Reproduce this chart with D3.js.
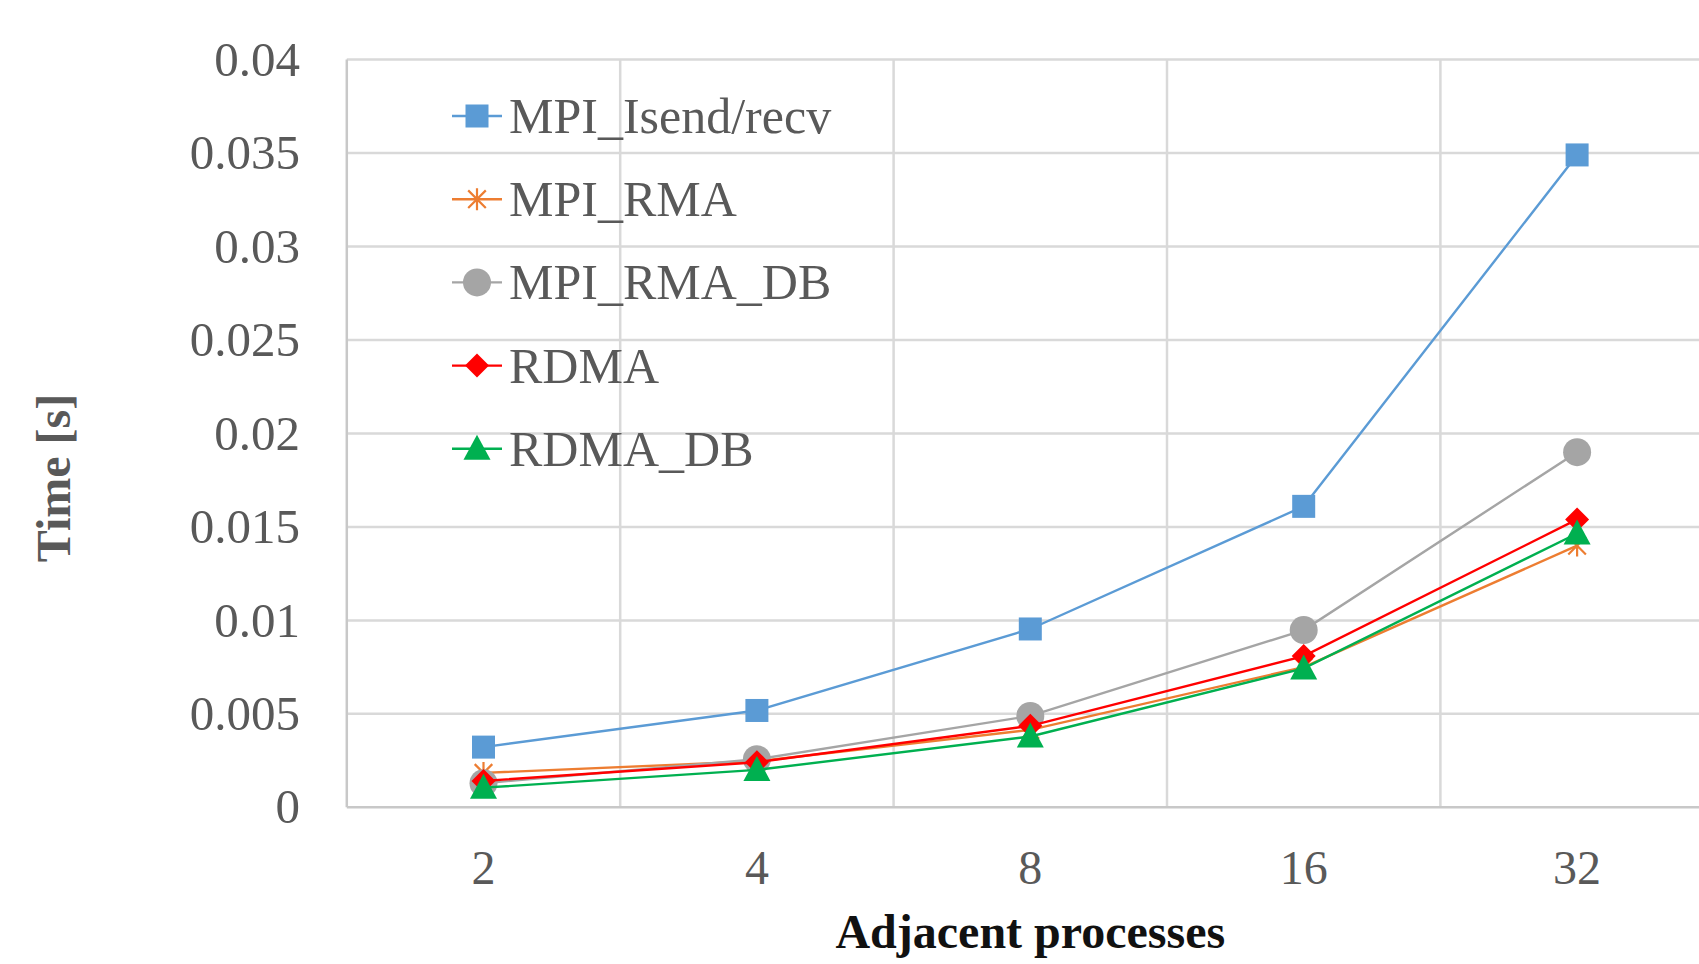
<!DOCTYPE html>
<html>
<head>
<meta charset="utf-8">
<script src="https://cdn.jsdelivr.net/npm/d3@7"></script>
<style>
    html, body { margin: 0; padding: 0; background: #fff; }
    svg { display: block; font-family: "Liberation Serif", "DejaVu Serif", serif; }
</style>
</head>
<body>
<svg id="chart" width="1699" height="964"></svg>
<script>
// chart data
const categories = ["2", "4", "8", "16", "32"];
const yTicks = [0, 0.005, 0.01, 0.015, 0.02, 0.025, 0.03, 0.035, 0.04];
const yTickLabels = ["0", "0.005", "0.01", "0.015", "0.02", "0.025", "0.03", "0.035", "0.04"];

const isendRecv = [0.00322, 0.00518, 0.00954, 0.0161, 0.0349];
const mpiRma = [0.00184, 0.00246, 0.00414, 0.0075, 0.0140];
const mpiRmaDb = [0.00129, 0.00257, 0.00489, 0.00948, 0.0190];
const rdma = [0.00141, 0.00241, 0.00436, 0.00809, 0.0154];
const rdmaDb = [0.00105, 0.0020, 0.00379, 0.00743, 0.01465];

const seriesNames = ["MPI_Isend/recv", "MPI_RMA", "MPI_RMA_DB", "RDMA", "RDMA_DB"];
const seriesValues = [isendRecv, mpiRma, mpiRmaDb, rdma, rdmaDb];
const seriesColors = ["#5b9bd5", "#ed7d31", "#a5a5a5", "#ff0000", "#00b050"];
const seriesMarkers = ["square", "star", "circle", "diamond", "triangle"];

const svg = d3.select("#chart");
svg.append("rect").attr("width", 1699).attr("height", 964).attr("fill", "#fff");

// plot area (right edge runs past the picture like in the original)
const plotLeft = 346.8, plotRight = 1713.8, plotTop = 59.6, plotBottom = 807.3;

const x = d3.scaleBand().domain(categories).range([plotLeft, plotRight]).paddingInner(0).paddingOuter(0);
const y = d3.scaleLinear().domain([0, 0.04]).range([plotBottom, plotTop]);
const cx = c => x(c) + x.bandwidth() / 2;

// horizontal gridlines
svg.append("g")
   .selectAll("line")
   .data(yTicks.slice(1))
   .enter()
   .append("line")
   .attr("x1", plotLeft).attr("x2", plotRight)
   .attr("y1", d => y(d)).attr("y2", d => y(d))
   .attr("stroke", "#d9d9d9")
   .attr("stroke-width", 2.5);

// vertical gridlines on category boundaries
svg.append("g")
   .selectAll("line")
   .data(categories.slice(1))
   .enter()
   .append("line")
   .attr("x1", d => x(d)).attr("x2", d => x(d))
   .attr("y1", plotTop).attr("y2", plotBottom)
   .attr("stroke", "#d9d9d9")
   .attr("stroke-width", 2.5);

// axis lines
svg.append("line")
   .attr("x1", plotLeft).attr("x2", plotLeft).attr("y1", plotTop).attr("y2", plotBottom)
   .attr("stroke", "#c8c8c8").attr("stroke-width", 2.5);
svg.append("line")
   .attr("x1", plotLeft).attr("x2", plotRight).attr("y1", plotBottom).attr("y2", plotBottom)
   .attr("stroke", "#c8c8c8").attr("stroke-width", 2.5);

// y axis labels
let yAxis = svg.append("g")
               .attr("transform", `translate(${plotLeft},0)`)
               .call(d3.axisLeft(y).tickValues(yTicks)
                       .tickFormat((d, i) => yTickLabels[i])
                       .tickSize(0).tickPadding(46.8));
yAxis.select(".domain").remove();
yAxis.selectAll("text")
     .attr("font-family", "Liberation Serif, serif")
     .attr("font-size", 49)
     .attr("fill", "#595959");

// x axis labels
let xAxis = svg.append("g")
               .attr("transform", `translate(0,${plotBottom})`)
               .call(d3.axisBottom(x).tickSize(0).tickPadding(42.5));
xAxis.select(".domain").remove();
xAxis.selectAll("text")
     .attr("font-family", "Liberation Serif, serif")
     .attr("font-size", 48)
     .attr("fill", "#595959");

// axis titles
svg.append("text")
   .attr("x", (plotLeft + plotRight) / 2).attr("y", 948)
   .attr("text-anchor", "middle")
   .attr("font-size", 48).attr("font-weight", "bold")
   .attr("fill", "#111")
   .text("Adjacent processes");

svg.append("text")
   .attr("transform", "translate(70,478) rotate(-90)")
   .attr("text-anchor", "middle")
   .attr("font-size", 48).attr("font-weight", "bold")
   .attr("fill", "#595959")
   .text("Time [s]");

// marker drawing helper
function drawMarker(g, type, px, py, color) {
    if (type === "square") {
        g.append("rect").attr("x", px - 11.5).attr("y", py - 11.5)
         .attr("width", 23).attr("height", 23).attr("fill", color);
    } else if (type === "circle") {
        g.append("circle").attr("cx", px).attr("cy", py).attr("r", 14).attr("fill", color);
    } else if (type === "diamond") {
        g.append("path")
         .attr("d", `M${px},${py - 12}L${px + 12},${py}L${px},${py + 12}L${px - 12},${py}Z`)
         .attr("fill", color);
    } else if (type === "triangle") {
        g.append("path")
         .attr("d", `M${px},${py - 14}L${px + 13.5},${py + 11}L${px - 13.5},${py + 11}Z`)
         .attr("fill", color);
    } else if (type === "star") {
        let r = 11;
        g.append("path")
         .attr("d", `M${px},${py - r}L${px},${py + r}` +
                    `M${px - r * 0.8},${py - r * 0.8}L${px + r * 0.8},${py + r * 0.8}` +
                    `M${px - r * 0.8},${py + r * 0.8}L${px + r * 0.8},${py - r * 0.8}`)
         .attr("stroke", color).attr("stroke-width", 2.2).attr("fill", "none");
    }
}

// series
let line = d3.line().x(d => cx(d.c)).y(d => y(d.v));

seriesValues.forEach((vals, i) => {
    let pts = categories.map((c, j) => ({c: c, v: vals[j]}));
    let g = svg.append("g").attr("class", "series");
    g.append("path")
     .attr("d", line(pts))
     .attr("fill", "none")
     .attr("stroke", seriesColors[i])
     .attr("stroke-width", 2.4);
    pts.forEach(p => drawMarker(g, seriesMarkers[i], cx(p.c), y(p.v), seriesColors[i]));
});

// legend
const legendX = 452, legendY = 116, legendStep = 83.2;
seriesNames.forEach((name, i) => {
    let g = svg.append("g").attr("class", "legend");
    let ly = legendY + i * legendStep;
    g.append("line")
     .attr("x1", legendX).attr("x2", legendX + 50)
     .attr("y1", ly).attr("y2", ly)
     .attr("stroke", seriesColors[i]).attr("stroke-width", 2.4);
    drawMarker(g, seriesMarkers[i], legendX + 25, ly, seriesColors[i]);
    g.append("text")
     .attr("x", legendX + 57).attr("y", ly + 17)
     .attr("font-size", 50)
     .attr("fill", "#595959")
     .text(name);
});
</script>
</body>
</html>
